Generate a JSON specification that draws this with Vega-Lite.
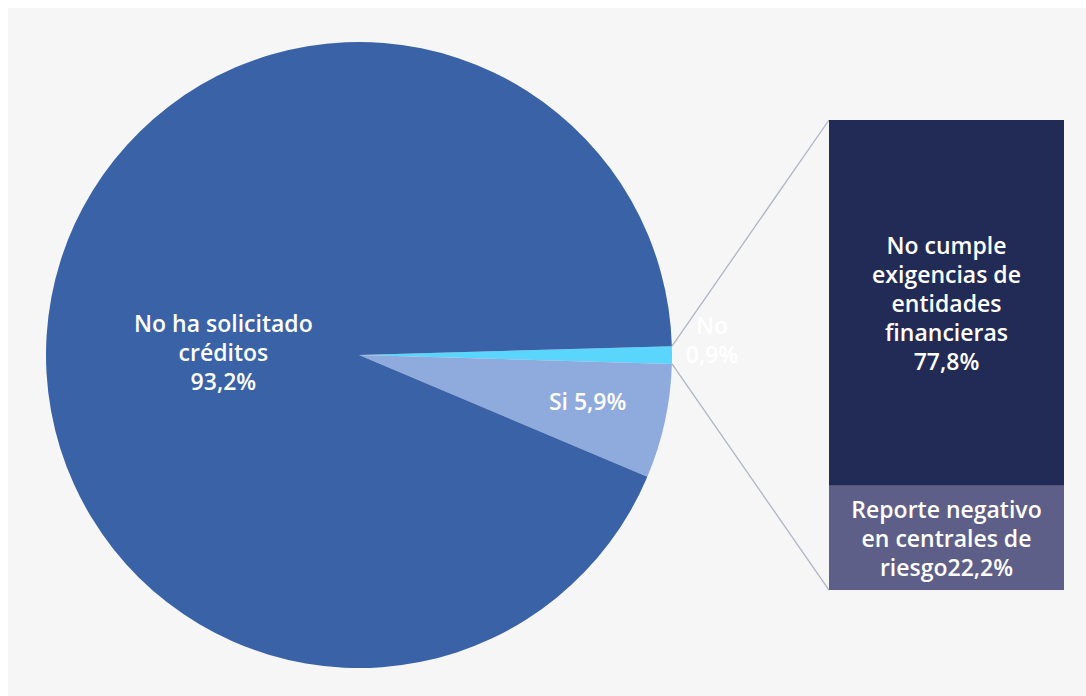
{
  "$schema": "https://vega.github.io/schema/vega-lite/v6.json",
  "width": 1078,
  "height": 688,
  "autosize": {"type": "none"},
  "padding": {"left": 8, "top": 8, "right": 0, "bottom": 0},
  "background": "#ffffff",
  "config": {
    "view": {"fill": "#f6f6f6", "stroke": null},
    "text": {"font": "Open Sans"},
    "scale": {"continuousPadding": 0}
  },
  "datasets": {
    "pie": [
      {"cat": "No", "ord": 1, "pct": 0.9, "label": "No\n0,9%"},
      {"cat": "Si", "ord": 2, "pct": 5.9, "label": "Si 5,9%"},
      {"cat": "No ha solicitado créditos", "ord": 3, "pct": 93.2, "label": "No ha solicitado\ncréditos\n93,2%"}
    ],
    "bar": [
      {"motivo": "Reporte negativo en centrales de riesgo", "ord": 1, "pct": 22.2, "label": "Reporte negativo\nen centrales de\nriesgo22,2%"},
      {"motivo": "No cumple exigencias de entidades financieras", "ord": 2, "pct": 77.8, "label": "No cumple\nexigencias de\nentidades\nfinancieras\n77,8%"}
    ],
    "conectores": [
      {"x0": 141.6, "y0": 51.9, "x1": 175, "y1": 100},
      {"x0": 141.6, "y0": 48.1, "x1": 175, "y1": 0}
    ]
  },
  "layer": [
    {
      "data": {"name": "pie"},
      "mark": {"type": "arc", "radius": 313},
      "encoding": {
        "x": {"datum": 75, "type": "quantitative", "scale": {"domain": [0.32, 229.68], "nice": false, "zero": false, "padding": 0}, "axis": null},
        "y": {"datum": 50, "type": "quantitative", "scale": {"domain": [-22.55, 123.83], "nice": false, "zero": false, "padding": 0}, "axis": null},
        "theta": {"field": "pct", "type": "quantitative", "stack": true, "scale": {"range": [1.543, 7.826]}},
        "color": {
          "field": "cat", "type": "nominal",
          "scale": {"domain": ["No", "Si", "No ha solicitado créditos"], "range": ["#5AD6FC", "#8FAADC", "#3A62A7"]},
          "legend": null
        },
        "order": {"field": "ord", "type": "quantitative"}
      }
    },
    {
      "data": {"name": "conectores"},
      "mark": {"type": "rule", "stroke": "#ADB5C5", "strokeWidth": 1.3},
      "encoding": {
        "x": {"field": "x0", "type": "quantitative", "scale": {"domain": [0.32, 229.68], "nice": false, "zero": false, "padding": 0}, "axis": null},
        "y": {"field": "y0", "type": "quantitative", "scale": {"domain": [-22.55, 123.83], "nice": false, "zero": false, "padding": 0}, "axis": null},
        "x2": {"field": "x1"},
        "y2": {"field": "y1"}
      }
    },
    {
      "data": {"name": "bar"},
      "mark": {"type": "bar", "orient": "vertical"},
      "encoding": {
        "x": {"datum": 175, "type": "quantitative", "scale": {"domain": [0.32, 229.68], "nice": false, "zero": false, "padding": 0}, "axis": null},
        "x2": {"datum": 225},
        "y": {"field": "pct", "type": "quantitative", "stack": "zero", "scale": {"domain": [-22.55, 123.83], "nice": false, "zero": false, "padding": 0}, "axis": null},
        "color": {
          "field": "motivo", "type": "nominal",
          "scale": {"domain": ["Reporte negativo en centrales de riesgo", "No cumple exigencias de entidades financieras"], "range": ["#5E5F88", "#222B55"]},
          "legend": null
        },
        "order": {"field": "ord", "type": "quantitative"}
      }
    },
    {
      "data": {"name": "bar"},
      "mark": {"type": "text", "dy": -56, "fontSize": 23, "fontWeight": 600, "fill": "#ffffff", "lineBreak": "\n", "lineHeight": 29, "baseline": "middle", "align": "center"},
      "encoding": {
        "x": {"datum": 200, "type": "quantitative", "scale": {"domain": [0.32, 229.68], "nice": false, "zero": false, "padding": 0}, "axis": null},
        "y": {"field": "pct", "type": "quantitative", "stack": "zero", "bandPosition": 0.5, "scale": {"domain": [-22.55, 123.83], "nice": false, "zero": false, "padding": 0}, "axis": null},
        "detail": {"field": "motivo"},
        "order": {"field": "ord", "type": "quantitative"},
        "text": {"condition": {"test": "datum.ord === 2", "field": "label"}, "value": ""}
      }
    },
    {
      "data": {"name": "bar"},
      "mark": {"type": "text", "dy": -27, "fontSize": 23, "fontWeight": 600, "fill": "#ffffff", "lineBreak": "\n", "lineHeight": 29, "baseline": "middle", "align": "center"},
      "encoding": {
        "x": {"datum": 200, "type": "quantitative", "scale": {"domain": [0.32, 229.68], "nice": false, "zero": false, "padding": 0}, "axis": null},
        "y": {"field": "pct", "type": "quantitative", "stack": "zero", "bandPosition": 0.5, "scale": {"domain": [-22.55, 123.83], "nice": false, "zero": false, "padding": 0}, "axis": null},
        "detail": {"field": "motivo"},
        "order": {"field": "ord", "type": "quantitative"},
        "text": {"condition": {"test": "datum.ord === 1", "field": "label"}, "value": ""}
      }
    },
    {
      "data": {"name": "pie"},
      "mark": {"type": "text", "radius": 138, "dy": -5, "fontSize": 23, "fontWeight": 600, "fill": "#ffffff", "lineBreak": "\n", "lineHeight": 29, "baseline": "middle", "align": "center"},
      "encoding": {
        "x": {"datum": 75, "type": "quantitative", "scale": {"domain": [0.32, 229.68], "nice": false, "zero": false, "padding": 0}, "axis": null},
        "y": {"datum": 50, "type": "quantitative", "scale": {"domain": [-22.55, 123.83], "nice": false, "zero": false, "padding": 0}, "axis": null},
        "theta": {"field": "pct", "type": "quantitative", "stack": true, "scale": {"range": [1.543, 7.826]}},
        "detail": {"field": "cat"},
        "order": {"field": "ord", "type": "quantitative"},
        "text": {"condition": {"test": "datum.cat === 'No ha solicitado créditos'", "field": "label"}, "value": ""}
      }
    },
    {
      "data": {"name": "pie"},
      "mark": {"type": "text", "radius": 234, "dy": -2, "fontSize": 23, "fontWeight": 600, "fill": "#ffffff", "lineBreak": "\n", "lineHeight": 29, "baseline": "middle", "align": "center"},
      "encoding": {
        "x": {"datum": 75, "type": "quantitative", "scale": {"domain": [0.32, 229.68], "nice": false, "zero": false, "padding": 0}, "axis": null},
        "y": {"datum": 50, "type": "quantitative", "scale": {"domain": [-22.55, 123.83], "nice": false, "zero": false, "padding": 0}, "axis": null},
        "theta": {"field": "pct", "type": "quantitative", "stack": true, "scale": {"range": [1.543, 7.826]}},
        "detail": {"field": "cat"},
        "order": {"field": "ord", "type": "quantitative"},
        "text": {"condition": {"test": "datum.cat === 'Si'", "field": "label"}, "value": ""}
      }
    },
    {
      "data": {"name": "pie"},
      "mark": {"type": "text", "radius": 353, "dy": -28, "fontSize": 23, "fontWeight": 600, "fill": "#ffffff", "lineBreak": "\n", "lineHeight": 29, "baseline": "middle", "align": "center"},
      "encoding": {
        "x": {"datum": 75, "type": "quantitative", "scale": {"domain": [0.32, 229.68], "nice": false, "zero": false, "padding": 0}, "axis": null},
        "y": {"datum": 50, "type": "quantitative", "scale": {"domain": [-22.55, 123.83], "nice": false, "zero": false, "padding": 0}, "axis": null},
        "theta": {"field": "pct", "type": "quantitative", "stack": true, "scale": {"range": [1.543, 7.826]}},
        "detail": {"field": "cat"},
        "order": {"field": "ord", "type": "quantitative"},
        "text": {"condition": {"test": "datum.cat === 'No'", "field": "label"}, "value": ""}
      }
    }
  ],
  "resolve": {"scale": {"color": "independent"}}
}
